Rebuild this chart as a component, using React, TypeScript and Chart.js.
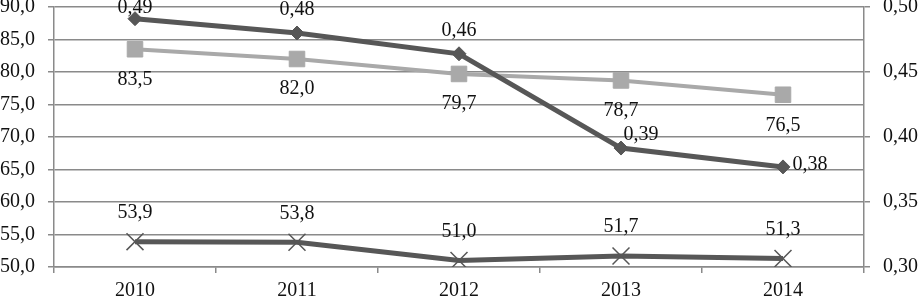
import React, { useEffect, useRef } from 'react';
import { Chart, registerables } from 'chart.js';

Chart.register(...registerables);

const categories = ['2010', '2011', '2012', '2013', '2014'];
const diamondValues = [0.491, 0.48, 0.464, 0.3915, 0.377];
const squareValues = [83.5, 82.0, 79.7, 78.7, 76.5];
const crossValues = [53.9, 53.8, 51.0, 51.7, 51.3];

const FONT = '"Liberation Serif", "Times New Roman", serif';
const GRID = '#8a8a8a';
const DARK = '#575757';
const LIGHT = '#a9a9a9';

const labelOffsets: Record<number, [number, number][]> = {
  0: [[0, -23], [0, -23], [0, -23], [20, -13], [27, -2]],
  1: [[0, 30], [0, 30], [0, 30], [0, 30], [0, 31]],
  2: [[0, -29], [0, -29], [0, -29], [0, -29], [0, -29]],
};

const labelPlugin = {
  id: 'valueLabels',
  afterDatasetsDraw(chart: any) {
    const ctx = chart.ctx;
    ctx.save();
    ctx.font = `20px ${FONT}`;
    ctx.fillStyle = '#111';
    ctx.textAlign = 'center';
    ctx.textBaseline = 'middle';
    chart.data.datasets.forEach((ds: any, di: number) => {
      const meta = chart.getDatasetMeta(di);
      meta.data.forEach((pt: any, i: number) => {
        const v = ds.data[i] as number;
        const txt = (di === 0 ? v.toFixed(2) : v.toFixed(1)).replace('.', ',');
        const [dx, dy] = labelOffsets[di][i];
        let y = pt.y + dy;
        if (y < 8) y = 8;
        ctx.fillText(txt, pt.x + dx, y);
      });
    });
    ctx.restore();
  },
};

export default function App() {
  const ref = useRef<HTMLCanvasElement | null>(null);
  useEffect(() => {
    if (!ref.current) return;
    const chart = new Chart(ref.current, {
      type: 'line',
      data: {
        labels: categories,
        datasets: [
          {
            label: 'A',
            data: diamondValues,
            yAxisID: 'y1',
            borderColor: DARK,
            backgroundColor: DARK,
            borderWidth: 5,
            pointStyle: 'rectRot',
            pointRadius: 7,
            pointBorderWidth: 1,
            tension: 0,
          },
          {
            label: 'B',
            data: squareValues,
            yAxisID: 'y',
            borderColor: LIGHT,
            backgroundColor: LIGHT,
            borderWidth: 4,
            pointStyle: 'rect',
            pointRadius: 11,
            pointBorderWidth: 1,
            tension: 0,
          },
          {
            label: 'C',
            data: crossValues,
            yAxisID: 'y',
            borderColor: DARK,
            backgroundColor: DARK,
            borderWidth: 5,
            pointStyle: 'crossRot',
            pointRadius: 12,
            pointBorderWidth: 1.5,
            tension: 0,
          },
        ],
      },
      options: {
        animation: false,
        responsive: true,
        maintainAspectRatio: false,
        layout: { padding: 0, autoPadding: false },
        plugins: { legend: { display: false }, tooltip: { enabled: false } },
        scales: {
          x: {
            offset: true,
            grid: { offset: true, drawOnChartArea: false, drawTicks: true, tickLength: 6, color: GRID, lineWidth: 1.5 },
            border: { display: true, color: GRID, width: 1.5 },
            ticks: { color: '#111', font: { family: FONT, size: 20 }, padding: 6, maxRotation: 0 },
            afterFit: (s: any) => { s.height = 32; s.paddingLeft = 0; s.paddingRight = 0; },
          },
          y: {
            position: 'left',
            min: 50,
            max: 90,
            ticks: {
              stepSize: 5,
              color: '#111',
              font: { family: FONT, size: 20 },
              padding: 13,
              callback: (v: any) => Number(v).toFixed(1).replace('.', ','),
            },
            grid: { color: GRID, lineWidth: 1.5, tickLength: 6 },
            border: { display: true, color: GRID, width: 1.5 },
            afterFit: (s: any) => { s.width = 54; s.paddingTop = 7; s.paddingBottom = 0; },
          },
          y1: {
            position: 'right',
            min: 0.3,
            max: 0.5,
            ticks: {
              stepSize: 0.05,
              color: '#111',
              font: { family: FONT, size: 20 },
              padding: 13,
              callback: (v: any) => Number(v).toFixed(2).replace('.', ','),
            },
            grid: { drawOnChartArea: false, color: GRID, lineWidth: 1.5, tickLength: 6 },
            border: { display: true, color: GRID, width: 1.5 },
            afterFit: (s: any) => { s.width = 55; s.paddingTop = 7; s.paddingBottom = 0; },
          },
        },
      },
      plugins: [labelPlugin],
    });
    return () => chart.destroy();
  }, []);
  return (
    <div style={{ position: 'fixed', left: 0, top: 0, width: 919, height: 299, background: '#fff' }}>
      <canvas ref={ref} />
    </div>
  );
}
